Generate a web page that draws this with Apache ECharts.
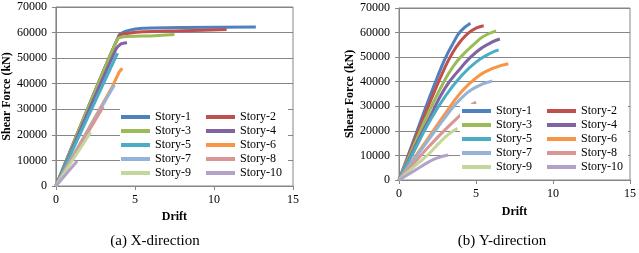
<!DOCTYPE html>
<html><head><meta charset="utf-8">
<script src="https://cdn.jsdelivr.net/npm/echarts@6/dist/echarts.min.js"></script>
<style>html,body{margin:0;padding:0;background:#fff}#c{width:639px;height:253px}</style>
</head><body><div id="c"></div>
<script>
const storyNames = ['Story-1','Story-2','Story-3','Story-4','Story-5','Story-6','Story-7','Story-8','Story-9','Story-10'];
const storyColors = ['#4F81BD','#C0504D','#9BBB59','#8064A2','#4BACC6','#F79646','#95B3D7','#D99694','#C3D69B','#B3A2C7'];

// X-direction: [drift, shear force kN]
const xS1 = [[0,0],[4.0,59000],[4.6,60800],[5.5,61700],[8,62000],[12.65,62200]];
const xS2 = [[0,0],[4.0,58800],[4.6,59700],[5.5,60300],[8,60700],[10.8,61200]];
const xS3 = [[0,0],[3.9,57500],[4.3,58400],[6,58700],[7.5,59200]];
const xS4 = [[0,0],[3.8,53500],[4.1,55500],[4.5,56000]];
const xS5 = [[0,0],[3.9,52000]];
const xS6 = [[0,0],[3.5,38000],[4.0,44500],[4.2,46000]];
const xS7 = [[0,0],[3.7,39500]];
const xS8 = [[0,0],[3.0,31000]];
const xS9 = [[0,0],[2.2,21000]];
const xS10 = [[0,0],[1.35,9800]];

// Y-direction: [drift, shear force kN]
const yS1 = [[0,0],[1,17000],[2,34000],[2.5,42000],[3,49500],[3.5,55500],[4,60500],[4.64,63800]];
const yS2 = [[0,0],[1,16000],[2,31500],[3,46000],[3.5,52000],[4,56500],[4.5,59800],[5,61800],[5.5,62800]];
const yS3 = [[0,0],[1,14500],[2,28500],[3,41000],[3.5,46000],[4,50000],[5,56000],[5.5,58500],[6.3,60700]];
const yS4 = [[0,0],[1,13000],[2,25500],[3,37500],[4,45500],[5,52000],[6,56000],[6.55,57400]];
const yS5 = [[0,0],[1,12000],[2,24000],[3,34000],[4,42000],[5,48000],[6,51800],[6.47,52900]];
const yS6 = [[0,0],[1,9000],[2,18000],[3,27000],[4,35500],[5,41500],[6,45200],[7.1,47300]];
const yS7 = [[0,0],[1,8500],[2,17000],[3,25500],[4,33000],[5,37800],[6.05,40300]];
const yS8 = [[0,0],[1,7000],[2,14000],[3,20500],[4,26500],[4.6,30000],[5,31700]];
const yS9 = [[0,0],[1,5500],[2,11000],[2.6,15000],[3.2,18500],[3.8,21000]];
const yS10 = [[0,0],[1,3800],[2,7600],[2.5,9000],[3.2,10200]];

const xTicks = {min:0, max:15, interval:5};
const yTicks = {min:0, max:70000, interval:10000};

const xData = [xS1,xS2,xS3,xS4,xS5,xS6,xS7,xS8,xS9,xS10];
const yData = [yS1,yS2,yS3,yS4,yS5,yS6,yS7,yS8,yS9,yS10];

const FONT = "'Liberation Serif', 'Times New Roman', serif";
const GREY = '#868686';

function xAxisCfg(idx, gap){
  return {type:'value', gridIndex:idx, min:xTicks.min, max:xTicks.max, interval:xTicks.interval,
    name:'Drift', nameLocation:'middle', nameGap:gap,
    nameTextStyle:{fontFamily:FONT, fontSize:12, fontWeight:'bold', color:'#000'},
    axisLine:{lineStyle:{color:GREY}}, axisTick:{show:true, length:4, lineStyle:{color:GREY}},
    axisLabel:{fontFamily:FONT, fontSize:12, color:'#000', margin:8, formatter:v=>String(v)},
    splitLine:{show:false}};
}
function yAxisCfg(idx, gap){
  return {type:'value', gridIndex:idx, min:yTicks.min, max:yTicks.max, interval:yTicks.interval,
    name:'Shear Force (kN)', nameLocation:'middle', nameGap:gap, nameRotate:90,
    nameTextStyle:{fontFamily:FONT, fontSize:12, fontWeight:'bold', color:'#000'},
    axisLine:{show:true, lineStyle:{color:GREY}}, axisTick:{show:true, length:4, lineStyle:{color:GREY}},
    axisLabel:{fontFamily:FONT, fontSize:12, color:'#000', margin:9, formatter:v=>String(v)},
    splitLine:{show:true, lineStyle:{color:GREY, width:1}}};
}
function legendCfg(names, left, top){
  return {data:names, orient:'vertical', left:left, top:top, padding:0, itemGap:0,
    itemWidth:29, itemHeight:4, icon:'rect',
    textStyle:{fontFamily:FONT, fontSize:12, color:'#000', lineHeight:14}};
}

const series = [];
storyNames.forEach((n,i)=>{
  series.push({name:n, type:'line', xAxisIndex:0, yAxisIndex:0, data:xData[i], showSymbol:false,
    smooth:0.2, lineStyle:{width:3, color:storyColors[i]}, itemStyle:{color:storyColors[i]}, z:2});
});
storyNames.forEach((n,i)=>{
  series.push({name:n, type:'line', xAxisIndex:1, yAxisIndex:1, data:yData[i], showSymbol:false,
    smooth:0.5, lineStyle:{width:3, color:storyColors[i]}, itemStyle:{color:storyColors[i]}, z:2});
});

const odd = storyNames.filter((_,i)=>i%2===0);
const even = storyNames.filter((_,i)=>i%2===1);

const option = {
  animation:false,
  backgroundColor:'#fff',
  textStyle:{fontFamily:FONT},
  grid:[
    {left:55, right:346, top:7, bottom:67, show:true, borderColor:GREY, borderWidth:1, backgroundColor:'transparent'},
    {left:399, right:6, top:8, bottom:73, show:true, borderColor:GREY, borderWidth:1, backgroundColor:'transparent'}
  ],
  xAxis:[xAxisCfg(0,25), xAxisCfg(1,26)],
  yAxis:[yAxisCfg(0,36), yAxisCfg(1,42)],
  legend:[
    legendCfg(odd,121,110), legendCfg(even,206,110),
    legendCfg(odd,462,104), legendCfg(even,547,104)
  ],
  title:[
    {text:'(a) X-direction', left:155, top:234, textAlign:'center', padding:0,
      textStyle:{fontFamily:FONT, fontSize:15, fontWeight:'normal', color:'#000'}},
    {text:'(b) Y-direction', left:502, top:234, textAlign:'center', padding:0,
      textStyle:{fontFamily:FONT, fontSize:15, fontWeight:'normal', color:'#000'}}
  ],
  graphic:[
    {type:'rect', shape:{x:120, y:107, width:168, height:74}, style:{fill:'#fff'}, z:3, silent:true},
    {type:'rect', shape:{x:460, y:104, width:168, height:69}, style:{fill:'#fff'}, z:3, silent:true}
  ],
  series:series
};
echarts.init(document.getElementById('c')).setOption(option);
</script></body></html>
